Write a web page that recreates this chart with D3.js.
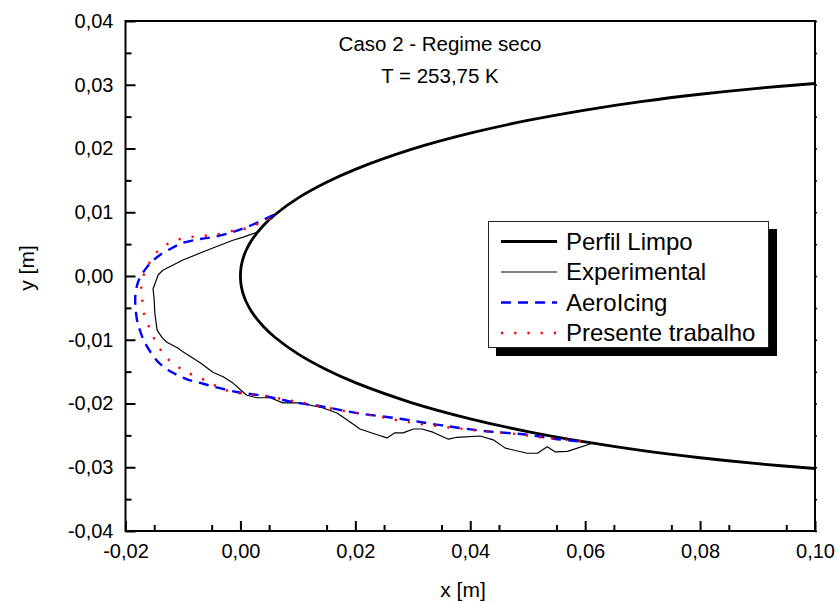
<!DOCTYPE html>
<html>
<head>
<meta charset="utf-8">
<script src="https://cdn.jsdelivr.net/npm/d3@7/dist/d3.min.js"></script>
<style>
  html, body { margin: 0; padding: 0; background: #fff; }
  svg { display: block; font-family: "Liberation Sans", Arial, sans-serif; }
</style>
</head>
<body>
<svg id="chart" width="837" height="602"></svg>
<script>
// Clean airfoil contour (NACA 0012 leading edge region), lower then upper surface
const perfilX = [0.10, 0.09, 0.08, 0.07, 0.06, 0.05, 0.04, 0.03, 0.02, 0.015, 0.01, 0.006, 0.004, 0.002, 0.001, 0.0005, 0.0002, 0.0001, 0,
                 0.0001, 0.0002, 0.0005, 0.001, 0.002, 0.004, 0.006, 0.01, 0.015, 0.02, 0.03, 0.04, 0.05, 0.06, 0.07, 0.08, 0.09, 0.10];
const perfilY = [-0.0302, -0.02944, -0.02851, -0.02739, -0.02603, -0.0244, -0.0224, -0.01993, -0.01673, -0.01471, -0.01222, -0.00961, -0.00792, -0.00567, -0.00404, -0.00287, -0.00183, -0.0013, 0,
                 0.0013, 0.00183, 0.00287, 0.00404, 0.00567, 0.00792, 0.00961, 0.01222, 0.01471, 0.01673, 0.01993, 0.0224, 0.0244, 0.02603, 0.02739, 0.02851, 0.02944, 0.0302];

// Measured ice shape
const expX = [0.0030, 0.0005, -0.0013, -0.0048, -0.0070, -0.0100, -0.0135, -0.0143, -0.0152, -0.0150, -0.0149, -0.0145, -0.0136, -0.0128,
              -0.0109, -0.0100, -0.0070, -0.0048, -0.0030, -0.0013, 0.0011, 0.0029, 0.0052, 0.0074, 0.0104, 0.0144, 0.0168, 0.0191,
              0.0208, 0.0238, 0.0255, 0.0269, 0.0283, 0.0301, 0.0316, 0.0335, 0.0362, 0.0377, 0.0417, 0.0440, 0.0461, 0.0499,
              0.0517, 0.0534, 0.0548, 0.0569, 0.0614];
const expY = [0.0069, 0.0061, 0.0056, 0.0044, 0.0036, 0.0025, 0.0009, 0.0002, -0.0020, -0.0038, -0.0058, -0.0085, -0.0097, -0.0104,
              -0.0113, -0.0119, -0.0136, -0.0151, -0.0158, -0.0168, -0.0187, -0.0191, -0.0191, -0.0199, -0.0199, -0.0207, -0.0215, -0.0229,
              -0.0240, -0.0249, -0.0254, -0.0246, -0.0246, -0.0240, -0.0240, -0.0245, -0.0256, -0.0253, -0.0251, -0.0257, -0.0270, -0.0278,
              -0.0278, -0.0268, -0.0276, -0.0275, -0.0262];

// AeroIcing prediction
const aeroX = [0.0058, 0.0020, -0.0013, -0.0048, -0.0070, -0.0100, -0.0119, -0.0140, -0.0157, -0.0169, -0.0178, -0.0183, -0.0180, -0.0175,
               -0.0166, -0.0143, -0.0119, -0.0093, -0.0065, -0.0036, -0.0006, 0.0017, 0.0052, 0.0092, 0.0144, 0.0203, 0.0278, 0.0348,
               0.0423, 0.0499, 0.0551, 0.0600];
const aeroY = [0.0096, 0.0080, 0.0069, 0.0061, 0.0058, 0.0052, 0.0044, 0.0033, 0.0020, 0.0006, -0.0009, -0.0033, -0.0069, -0.0085,
               -0.0105, -0.0135, -0.0151, -0.0162, -0.0169, -0.0176, -0.0182, -0.0185, -0.0190, -0.0198, -0.0205, -0.0215, -0.0224, -0.0234,
               -0.0243, -0.0249, -0.0256, -0.0260];

// Present work prediction
const presX = [0.0052, 0.0011, -0.0013, -0.0048, -0.0067, -0.0088, -0.0105, -0.0123, -0.0142, -0.0156, -0.0166, -0.0171, -0.0173, -0.0170,
               -0.0168, -0.0161, -0.0153, -0.0142, -0.0130, -0.0111, -0.0093, -0.0058, -0.0039, -0.0022, 0.0000, 0.0035, 0.0073, 0.0110,
               0.0170, 0.0238, 0.0290, 0.0388, 0.0482, 0.0522, 0.0569, 0.0592];
const presY = [0.0090, 0.0075, 0.0071, 0.0064, 0.0063, 0.0061, 0.0058, 0.0052, 0.0041, 0.0024, 0.0008, -0.0009, -0.0025, -0.0042,
               -0.0058, -0.0075, -0.0093, -0.0111, -0.0127, -0.0141, -0.0151, -0.0165, -0.0174, -0.0180, -0.0184, -0.0187, -0.0193, -0.0199,
               -0.0210, -0.0220, -0.0229, -0.0240, -0.0248, -0.0253, -0.0257, -0.0259];

const xTicks = [-0.02, 0.00, 0.02, 0.04, 0.06, 0.08, 0.10];
const yTicks = [-0.04, -0.03, -0.02, -0.01, 0.00, 0.01, 0.02, 0.03, 0.04];
const titleLines = ["Caso 2 - Regime seco", "T = 253,75 K"];
const legendLabels = ["Perfil Limpo", "Experimental", "AeroIcing", "Presente trabalho"];

const svg = d3.select("#chart");
const L = 125.5, R = 815, T = 21, B = 531;

const x = d3.scaleLinear().domain([-0.02, 0.10]).range([L, R]);
const y = d3.scaleLinear().domain([-0.04, 0.04]).range([B, T]);

const fmt = d => (d < -1e-9 ? "-" : "") + Math.abs(d).toFixed(2).replace(".", ",");

svg.append("defs").append("clipPath").attr("id", "plotClip")
  .append("rect").attr("x", L).attr("y", T).attr("width", R - L).attr("height", B - T);

const pts = (xs, ys) => xs.map((v, i) => [v, ys[i]]);
const lineLin = d3.line().x(d => x(d[0])).y(d => y(d[1]));
const lineSmooth = d3.line().x(d => x(d[0])).y(d => y(d[1])).curve(d3.curveCatmullRom.alpha(0.5));

const series = [
  { label: legendLabels[0], data: pts(perfilX, perfilY), gen: lineSmooth, color: "#000", width: 2.8, dash: null },
  { label: legendLabels[1], data: pts(expX, expY), gen: lineLin, color: "#000", width: 1.2, dash: null },
  { label: legendLabels[2], data: pts(aeroX, aeroY), gen: lineSmooth, color: "#0000ff", width: 2.4, dash: "10,7" },
  { label: legendLabels[3], data: pts(presX, presY), gen: lineSmooth, color: "#ff0000", width: 2.4, dash: "2.2,11" }
];

const plot = svg.append("g").attr("clip-path", "url(#plotClip)");
series.forEach(s => {
  plot.append("path")
    .attr("d", s.gen(s.data))
    .attr("fill", "none")
    .attr("stroke", s.color)
    .attr("stroke-width", s.width)
    .attr("stroke-dasharray", s.dash)
    .attr("stroke-linejoin", "round");
});

// Frame
svg.append("rect").attr("x", L).attr("y", T).attr("width", R - L).attr("height", B - T)
  .attr("fill", "none").attr("stroke", "#000").attr("stroke-width", 2);

// Minor tick values
const xMinor = d3.range(-0.015, 0.1, 0.01).map(v => +v.toFixed(3));
const yMinor = d3.range(-0.035, 0.04, 0.01).map(v => +v.toFixed(3));

// Bottom axis: ticks pointing inward
const bottom = svg.append("g").attr("transform", `translate(0,${B})`)
  .call(d3.axisBottom(x).tickValues(xTicks).tickFormat(fmt).tickSizeInner(-10).tickSizeOuter(0).tickPadding(13));
bottom.select(".domain").remove();
bottom.selectAll(".tick line").attr("stroke-width", 2);
bottom.selectAll("text").attr("font-size", 20).attr("font-family", "Liberation Sans, Arial, sans-serif").attr("fill", "#000");
svg.append("g").attr("transform", `translate(0,${B})`)
  .call(d3.axisBottom(x).tickValues(xMinor).tickFormat("").tickSizeInner(-6).tickSizeOuter(0))
  .call(g => g.select(".domain").remove())
  .selectAll(".tick line").attr("stroke-width", 2);

// Left axis: ticks pointing inward
const left = svg.append("g").attr("transform", `translate(${L},0)`)
  .call(d3.axisLeft(y).tickValues(yTicks).tickFormat(fmt).tickSizeInner(-10).tickSizeOuter(0).tickPadding(12));
left.select(".domain").remove();
left.selectAll(".tick line").attr("stroke-width", 2);
left.selectAll("text").attr("font-size", 20).attr("font-family", "Liberation Sans, Arial, sans-serif").attr("fill", "#000");
svg.append("g").attr("transform", `translate(${L},0)`)
  .call(d3.axisLeft(y).tickValues(yMinor).tickFormat("").tickSizeInner(-6).tickSizeOuter(0))
  .call(g => g.select(".domain").remove())
  .selectAll(".tick line").attr("stroke-width", 2);

// Right axis: small outward ticks
svg.append("g").attr("transform", `translate(${R},0)`)
  .call(d3.axisRight(y).tickValues(yTicks.concat(yMinor)).tickFormat("").tickSizeInner(2).tickSizeOuter(0))
  .call(g => g.select(".domain").remove())
  .selectAll(".tick line").attr("stroke-width", 1.5);

// Axis titles
svg.append("text").attr("x", 463).attr("y", 597).attr("text-anchor", "middle")
  .attr("font-size", 21).text("x [m]");
svg.append("text").attr("transform", "translate(34,268) rotate(-90)").attr("text-anchor", "middle")
  .attr("font-size", 21).text("y [m]");

// Title
titleLines.forEach((t, i) => {
  svg.append("text").attr("x", 440).attr("y", 51 + i * 32).attr("text-anchor", "middle")
    .attr("font-size", 20.5).text(t);
});

// Legend with drop shadow
const lg = svg.append("g");
lg.append("rect").attr("x", 496).attr("y", 229).attr("width", 281).attr("height", 127).attr("fill", "#000");
lg.append("rect").attr("x", 488.5).attr("y", 221.5).attr("width", 280).attr("height", 126)
  .attr("fill", "#fff").attr("stroke", "#222").attr("stroke-width", 1);
series.forEach((s, i) => {
  const by = 249.5 + i * 30.5;
  lg.append("line").attr("x1", 501).attr("x2", 557).attr("y1", by - 8).attr("y2", by - 8)
    .attr("stroke", s.color).attr("stroke-width", s.width).attr("stroke-dasharray", s.dash);
  lg.append("text").attr("x", 566).attr("y", by).attr("font-size", 24).text(s.label);
});
</script>
</body>
</html>
